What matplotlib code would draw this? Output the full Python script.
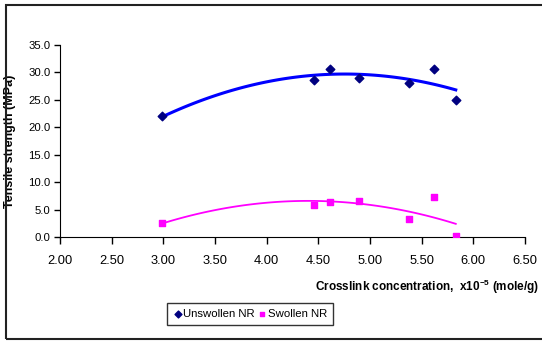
import numpy as np
import matplotlib.pyplot as plt
from matplotlib.patches import Rectangle

plt.rcParams['font.family'] = ['Liberation Sans', 'DejaVu Sans']

# crosslink concentration x10^-5 (mole/g)
crosslink = [2.99, 4.46, 4.61, 4.89, 5.38, 5.62, 5.83]
unswollen = [22.0, 28.6, 30.7, 29.0, 28.1, 30.7, 25.0]
swollen = [2.6, 5.9, 6.4, 6.6, 3.3, 7.3, 0.1]

fig = plt.figure(figsize=(5.42, 3.41), dpi=100)
ax = fig.add_axes([60 / 542, 1 - 237 / 341, 465 / 542, 192 / 341])

# second order trend lines, as in the spreadsheet
xs = np.linspace(min(crosslink), max(crosslink), 100)
for vals, col, lw in [(unswollen, "#0000ff", 2.2), (swollen, "#ff00ff", 1.3)]:
    coef = np.polyfit(crosslink, vals, 2)
    ax.plot(xs, np.polyval(coef, xs), color=col, lw=lw, zorder=2)

ax.scatter(crosslink, unswollen, marker="D", s=19, color="#000080",
           label="Unswollen NR", zorder=3)
ax.scatter(crosslink, swollen, marker="s", s=19, color="#ff00ff",
           label="Swollen NR", zorder=3)

ax.set_xlim(2.0, 6.5)
ax.set_ylim(0, 35)
ax.set_xticks(np.arange(2.0, 6.51, 0.5))
ax.set_yticks(np.arange(0, 35.1, 5))
ax.xaxis.set_major_formatter(plt.FormatStrFormatter("%.2f"))
ax.yaxis.set_major_formatter(plt.FormatStrFormatter("%.1f"))
ax.tick_params(axis="y", labelsize=8.2, length=4, width=1, direction="out", pad=3)
ax.tick_params(axis="x", labelsize=9.3, length=5, width=1, direction="out", pad=8)
for s in ["top", "right"]:
    ax.spines[s].set_visible(False)

ax.set_ylabel("Tensile strength (MPa)", fontsize=9, fontweight="bold")
ax.yaxis.set_label_coords(-44 / 465, 0.5)
fig.text(539 / 542, 1 - 287 / 341,
         r"Crosslink concentration,  x10$^{\mathregular{-5}}$ (mole/g)",
         ha="right", va="center", fontsize=8.5, fontweight="bold")

fig.legend(loc="center", bbox_to_anchor=(250 / 542, 1 - 314 / 341), ncol=2,
           fontsize=8.2, frameon=True, fancybox=False, edgecolor="black",
           handletextpad=0.05, columnspacing=0.3, markerscale=0.8,
           borderpad=0.55, handlelength=0.8, borderaxespad=0)

fig.patches.append(Rectangle((6 / 542, 1 - 339 / 341), 545 / 542, 334 / 341,
                             transform=fig.transFigure, fill=False,
                             edgecolor="#222222", lw=1.5))

fig.savefig("out.png", dpi=100)
